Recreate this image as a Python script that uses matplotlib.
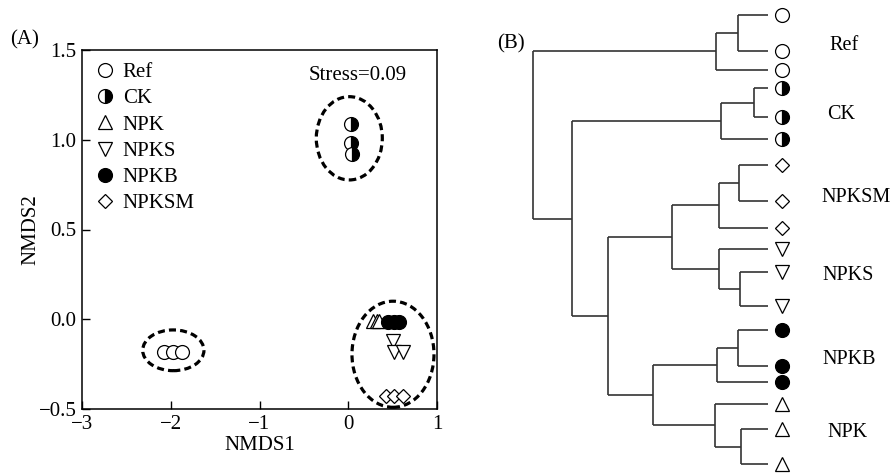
import matplotlib
matplotlib.use('Agg')
import matplotlib.pyplot as plt
from matplotlib.patches import Ellipse
import numpy as np

plt.rcParams['font.family'] = ['Liberation Serif', 'DejaVu Serif']
plt.rcParams['axes.unicode_minus'] = True

# ---------------- data: NMDS ordination (panel A) ----------------
groups = ['Ref', 'CK', 'NPK', 'NPKS', 'NPKB', 'NPKSM']
ref_x = [-2.08, -1.98, -1.875]
ref_y = [-0.18, -0.18, -0.18]
ck_x = [0.03, 0.03, 0.04]
ck_y = [1.09, 0.98, 0.92]
npk_x = [0.28, 0.32, 0.35]
npk_y = [-0.01, -0.01, -0.01]
npks_x = [0.50, 0.51, 0.62]
npks_y = [-0.12, -0.18, -0.18]
npkb_x = [0.445, 0.51, 0.573]
npkb_y = [-0.015, -0.015, -0.015]
npksm_x = [0.43, 0.52, 0.62]
npksm_y = [-0.43, -0.43, -0.43]

# confidence ellipses: centre x, centre y, width, height
ell_cx = [-1.971, 0.012, 0.504]
ell_cy = [-0.173, 1.008, -0.195]
ell_w = [0.69, 0.744, 0.924]
ell_h = [0.227, 0.464, 0.591]

stress_label = 'Stress=0.09'
xticks = [-3, -2, -1, 0, 1]
yticks = [-0.5, 0.0, 0.5, 1.0, 1.5]

# ---------------- data: cluster dendrogram (panel B) ----------------
leaf_group = ['Ref', 'Ref', 'Ref', 'CK', 'CK', 'CK',
              'NPKSM', 'NPKSM', 'NPKSM', 'NPKS', 'NPKS', 'NPKS',
              'NPKB', 'NPKB', 'NPKB', 'NPK', 'NPK', 'NPK']
leaf_pos = [15, 50.7, 70, 88.3, 117, 139.3, 165, 200.7, 227.7,
            249.3, 271.7, 306, 330, 365.7, 381.7, 404.3, 429, 464.3]
# merges: left child, right child, height (new nodes numbered from 18)
merge_left = [0, 18, 3, 20, 6, 22, 10, 9, 12, 26, 16, 15, 23, 27, 30, 21, 19]
merge_right = [1, 2, 4, 5, 7, 8, 11, 24, 13, 14, 17, 28, 25, 29, 31, 32, 33]
merge_height = [0.126, 0.221, 0.060, 0.201, 0.122, 0.208, 0.119, 0.208,
                0.126, 0.218, 0.116, 0.225, 0.409, 0.487, 0.679, 0.832, 1.0]
dendro_label_order = ['Ref', 'CK', 'NPKSM', 'NPKS', 'NPKB', 'NPK']
dendro_label_px = [829, 827, 821, 822, 822, 827]   # left edge of each label (pixels)

# ---------------- styles ----------------
style = {
    'Ref':   dict(marker='o', ms=10, mfc='white', mec='black'),
    'CK':    dict(marker='o', ms=10, mfc='black', mfcalt='white', mec='black', fillstyle='right'),
    'NPK':   dict(marker='^', ms=10, mfc='white', mec='black'),
    'NPKS':  dict(marker='v', ms=10, mfc='white', mec='black'),
    'NPKB':  dict(marker='o', ms=10, mfc='black', mec='black'),
    'NPKSM': dict(marker='D', ms=7.5, mfc='white', mec='black'),
}
data_xy = {'Ref': (ref_x, ref_y), 'CK': (ck_x, ck_y), 'NPK': (npk_x, npk_y),
           'NPKS': (npks_x, npks_y), 'NPKB': (npkb_x, npkb_y),
           'NPKSM': (npksm_x, npksm_y)}

W, H = 894, 475
fig = plt.figure(figsize=(W / 100, H / 100), dpi=100)

# ---------------- panel A ----------------
ax = fig.add_axes([82 / W, 1 - 409 / H, 355 / W, 359 / H])
for g in groups:
    x, y = data_xy[g]
    ax.plot(x, y, linestyle='none', mew=0.9, label=g, **style[g])
for cx, cy, w, h in zip(ell_cx, ell_cy, ell_w, ell_h):
    ax.add_patch(Ellipse((cx, cy), w, h, fill=False, edgecolor='black',
                         lw=2.3, linestyle=(0, (2.2, 1.3)), clip_on=False))
ax.set_xlim(-3, 1)
ax.set_ylim(-0.5, 1.5)
ax.set_xticks(xticks)
ax.set_yticks(yticks)
ax.set_xticklabels([f'{t:g}'.replace('-', '\u2212') for t in xticks])
ax.set_yticklabels([f'{t:.1f}'.replace('-', '\u2212') for t in yticks])
ax.tick_params(direction='in', length=6, width=1.0, labelsize=15, pad=4,
               top=False, right=False)
for s in ax.spines.values():
    s.set_linewidth(1.1)
ax.set_xlabel('NMDS1', fontsize=15, labelpad=2)
ax.set_ylabel('NMDS2', fontsize=15, labelpad=-1.5)
ax.text(0.776, 0.928, stress_label, transform=ax.transAxes, ha='center',
        va='center', fontsize=15)
ax.legend(loc='upper left', bbox_to_anchor=(0.0, 1.0), frameon=False,
          fontsize=15, handletextpad=0.35, labelspacing=0.32,
          borderaxespad=0.3, handlelength=1.0, borderpad=0.3, numpoints=1)
fig.text(10 / W, 1 - 40 / H, '(A)', fontsize=15, ha='left', va='center')

# ---------------- panel B ----------------
bx = fig.add_axes([520 / W, 0, 374 / W, 1])
bx.set_xlim(1.054, -0.5355)
bx.set_ylim(H, 0)
bx.axis('off')
line_kw = dict(color='#333333', lw=1.2, solid_capstyle='butt')
n = len(leaf_pos)
node_y = list(leaf_pos)
node_h = [0.0] * n
for l, r, h in zip(merge_left, merge_right, merge_height):
    yl, yr = node_y[l], node_y[r]
    bx.plot([h, h], [yl, yr], **line_kw)
    bx.plot([node_h[l], h], [yl, yl], **line_kw)
    bx.plot([node_h[r], h], [yr, yr], **line_kw)
    node_y.append((yl + yr) / 2)
    node_h.append(h)
marker_off = -0.058
for g, yy in zip(leaf_group, leaf_pos):
    bx.plot([marker_off], [yy], linestyle='none', mew=0.9, clip_on=False, **style[g])
for g, lx in zip(dendro_label_order, dendro_label_px):
    ys = [yy for gg, yy in zip(leaf_group, leaf_pos) if gg == g]
    bx.text(lx / W, 1 - np.mean(ys) / H, g, fontsize=14.5, ha='left',
            va='center', transform=fig.transFigure)
fig.text(497 / W, 1 - 44 / H, '(B)', fontsize=15, ha='left', va='center')

fig.savefig('out.png', dpi=100)
